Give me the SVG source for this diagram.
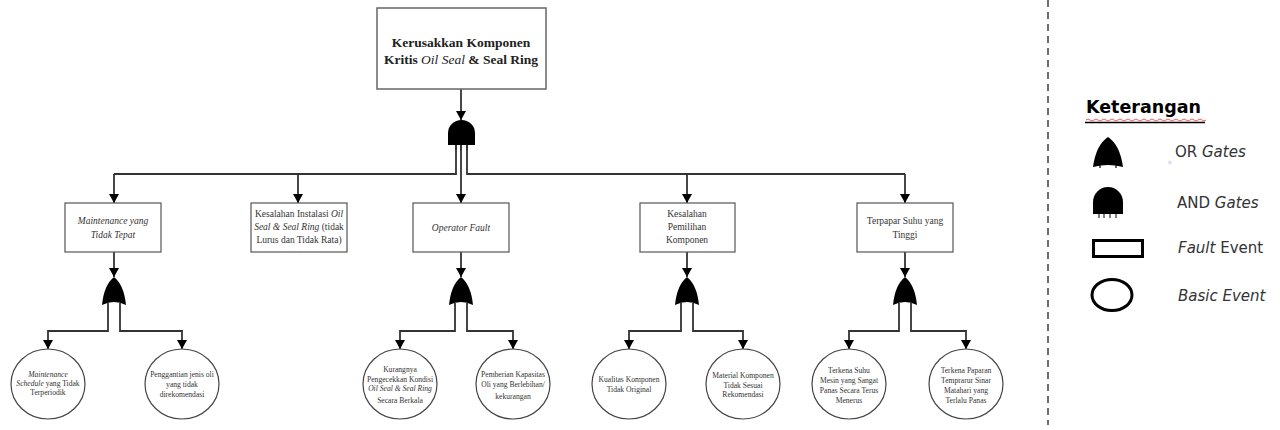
<svg xmlns="http://www.w3.org/2000/svg" width="1280" height="430" viewBox="0 0 1280 430">
<defs>
<marker id="arr" markerWidth="9" markerHeight="10" refX="9" refY="5" orient="auto" markerUnits="userSpaceOnUse">
<path d="M0,0 L9,5 L0,10 Z" fill="#000"/>
</marker>
<style>
.conn{fill:none;stroke:#333;stroke-width:1.8}
.ca{fill:none;stroke:#333;stroke-width:1.8;marker-end:url(#arr)}
.box{fill:#fff;stroke:#555;stroke-width:1.2}
.top{fill:#fff;stroke:#666;stroke-width:1.5}
.circ{fill:#fff;stroke:#444;stroke-width:1.2}
.gate{fill:#000}
.t{font-family:"Liberation Serif",serif;font-size:9.5px;fill:#333;text-anchor:middle}
.c{font-family:"Liberation Serif",serif;font-size:7.6px;fill:#333;text-anchor:middle}
.h{font-family:"Liberation Serif",serif;font-size:13.5px;font-weight:bold;fill:#222;text-anchor:middle}
.lg{font-family:"DejaVu Sans",sans-serif;font-size:15px;fill:#333}
.i{font-style:italic}
</style>
</defs>
<rect width="1280" height="430" fill="#fff"/>

<g id="connectors">
<path class="ca" d="M461,89 V120"/>
<path class="conn" d="M456,145 V174 H114"/>
<path class="conn" d="M467,145 V174 H905"/>
<path class="ca" d="M114,174 V203"/>
<path class="ca" d="M298,174 V203"/>
<path class="ca" d="M461,145 V203"/>
<path class="ca" d="M687,174 V203"/>
<path class="ca" d="M905,174 V203"/>
<path class="ca" d="M114,252 V277"/>
<path class="ca" d="M461,252 V277"/>
<path class="ca" d="M687,252 V277"/>
<path class="ca" d="M905,252 V277"/>
<path class="ca" d="M108,303 V331 H48 V349"/>
<path class="ca" d="M120,303 V331 H182 V349"/>
<path class="ca" d="M455,303 V331 H400 V349"/>
<path class="ca" d="M467,303 V331 H513 V349"/>
<path class="ca" d="M681,303 V331 H629 V349"/>
<path class="ca" d="M693,303 V331 H743 V349"/>
<path class="ca" d="M899,303 V331 H849 V349"/>
<path class="ca" d="M911,303 V331 H966 V349"/>
</g>

<g id="top-event">
<rect class="top" x="377" y="8" width="169" height="81"/>
<text class="h" x="461" y="47">Kerusakkan Komponen</text>
<text class="h" x="461" y="64">Kritis <tspan class="i" font-weight="normal">Oil Seal</tspan> &amp; Seal Ring</text>
</g>

<g id="and-gate-main">
<path class="gate" d="M448,145 V133 A13.5,13 0 0 1 475,133 V145 Z"/>
<path class="conn" d="M456,145 V150 M461,145 V150 M467,145 V150"/>
</g>

<g id="fault-maintenance">
<rect class="box" x="65" y="203" width="96" height="49"/>
<text class="t i" x="113" y="224">Maintenance yang</text>
<text class="t i" x="113" y="238">Tidak Tepat</text>
</g>
<g id="fault-instalasi">
<rect class="box" x="251" y="203" width="96" height="49"/>
<text class="t" x="299" y="217">Kesalahan Instalasi <tspan class="i">Oil</tspan></text>
<text class="t" x="299" y="230"><tspan class="i">Seal &amp; Seal Ring</tspan> (tidak</text>
<text class="t" x="299" y="243">Lurus dan Tidak Rata)</text>
</g>
<g id="fault-operator">
<rect class="box" x="413" y="203" width="96" height="49"/>
<text class="t i" x="461" y="231">Operator Fault</text>
</g>
<g id="fault-pemilihan">
<rect class="box" x="640" y="203" width="95" height="49"/>
<text class="t" x="687" y="217">Kesalahan</text>
<text class="t" x="687" y="230">Pemilihan</text>
<text class="t" x="687" y="243">Komponen</text>
</g>
<g id="fault-suhu">
<rect class="box" x="857" y="203" width="96" height="49"/>
<text class="t" x="905" y="224">Terpapar Suhu yang</text>
<text class="t" x="905" y="238">Tinggi</text>
</g>

<g id="or-gate-1"><path class="gate" d="M102,305 Q104,285 114,277 Q124,285 126,305 Q114,299 102,305 Z"/></g>
<g id="or-gate-3"><path class="gate" d="M449,305 Q451,285 461,277 Q471,285 473,305 Q461,299 449,305 Z"/></g>
<g id="or-gate-4"><path class="gate" d="M675,305 Q677,285 687,277 Q697,285 699,305 Q687,299 675,305 Z"/></g>
<g id="or-gate-5"><path class="gate" d="M893,305 Q895,285 905,277 Q915,285 917,305 Q905,299 893,305 Z"/></g>

<g id="basic-1a">
<ellipse class="circ" cx="48" cy="384" rx="37" ry="35"/>
<text class="c" x="48" y="377"><tspan class="i">Maintenance</tspan></text>
<text class="c" x="48" y="386"><tspan class="i">Schedule</tspan> yang Tidak</text>
<text class="c" x="48" y="395">Terperiodik</text>
</g>
<g id="basic-1b">
<ellipse class="circ" cx="182" cy="384" rx="37" ry="35"/>
<text class="c" x="182" y="377">Penggantian jenis oli</text>
<text class="c" x="182" y="387">yang tidak</text>
<text class="c" x="182" y="397">direkomendasi</text>
</g>
<g id="basic-3a">
<ellipse class="circ" cx="400" cy="384" rx="37" ry="35"/>
<text class="c" x="400" y="372">Kurangnya</text>
<text class="c" x="400" y="382">Pengecekkan Kondisi</text>
<text class="c i" x="400" y="391">Oil Seal &amp; Seal Ring</text>
<text class="c" x="400" y="403">Secara Berkala</text>
</g>
<g id="basic-3b">
<ellipse class="circ" cx="513" cy="384" rx="37" ry="35"/>
<text class="c" x="513" y="377">Pemberian Kapasitas</text>
<text class="c" x="513" y="387">Oli yang Berlebihan/</text>
<text class="c" x="513" y="399">kekurangan</text>
</g>
<g id="basic-4a">
<ellipse class="circ" cx="629" cy="384" rx="37" ry="35"/>
<text class="c" x="629" y="382">Kualitas Komponen</text>
<text class="c" x="629" y="392">Tidak Original</text>
</g>
<g id="basic-4b">
<ellipse class="circ" cx="743" cy="384" rx="37" ry="35"/>
<text class="c" x="743" y="378">Material Komponen</text>
<text class="c" x="743" y="388">Tidak Sesuai</text>
<text class="c" x="743" y="397">Rekomendasi</text>
</g>
<g id="basic-5a">
<ellipse class="circ" cx="849" cy="384" rx="37" ry="35"/>
<text class="c" x="849" y="373">Terkena Suhu</text>
<text class="c" x="849" y="383">Mesin yang Sangat</text>
<text class="c" x="849" y="393">Panas Secara Terus</text>
<text class="c" x="849" y="403">Menerus</text>
</g>
<g id="basic-5b">
<ellipse class="circ" cx="966" cy="384" rx="37" ry="35"/>
<text class="c" x="966" y="373">Terkena Paparan</text>
<text class="c" x="966" y="383">Temprarur Sinar</text>
<text class="c" x="966" y="393">Matahari yang</text>
<text class="c" x="966" y="403">Terlalu Panas</text>
</g>

<g id="legend">
<line x1="1048" y1="0" x2="1048" y2="425" stroke="#222" stroke-width="1.3" stroke-dasharray="7,5"/>
<text x="1086" y="113" font-family="'DejaVu Sans',sans-serif" font-size="17.5" font-weight="bold" fill="#000">Keterangan</text>
<path d="M1086,120 q2,-2 4,0 t4,0 t4,0 t4,0 t4,0 t4,0 t4,0 t4,0 t4,0 t4,0 t4,0 t4,0 t4,0 t4,0 t4,0 t4,0 t4,0 t4,0 t4,0 t4,0 t4,0 t4,0 t4,0 t4,0 t4,0 t4,0 t4,0 t4,0 t4,0 t4,0" fill="none" stroke="#e33" stroke-width="0.8"/>
<line x1="1085" y1="122.5" x2="1205" y2="122.5" stroke="#000" stroke-width="1.5"/>
<path class="gate" d="M1093,167 Q1096,145 1108,137 Q1120,145 1123,167 Q1108,163 1093,167 Z"/>
<path d="M1100,164 V168 M1116,164 V168" stroke="#000" stroke-width="1.2"/>
<path d="M1170,160 l2.5,2.5 -2.5,2.5 -2.5,-2.5 Z" fill="#dde3ec"/>
<text class="lg" x="1175" y="157">OR <tspan class="i">Gates</tspan></text>
<path class="gate" d="M1093,214 V202 A15,15 0 0 1 1123,202 V214 Z"/>
<path d="M1099,213 V218 M1104,213 V218 M1110,213 V218 M1116,213 V218" stroke="#000" stroke-width="1"/>
<text class="lg" x="1177" y="208">AND <tspan class="i">Gates</tspan></text>
<rect x="1093.5" y="240.5" width="49" height="16" fill="#fff" stroke="#000" stroke-width="3"/>
<text class="lg" x="1178" y="253"><tspan class="i">Fault</tspan> Event</text>
<ellipse cx="1112" cy="295" rx="20" ry="15.5" fill="#fff" stroke="#000" stroke-width="3"/>
<text class="lg i" x="1178" y="301">Basic Event</text>
</g>
</svg>
